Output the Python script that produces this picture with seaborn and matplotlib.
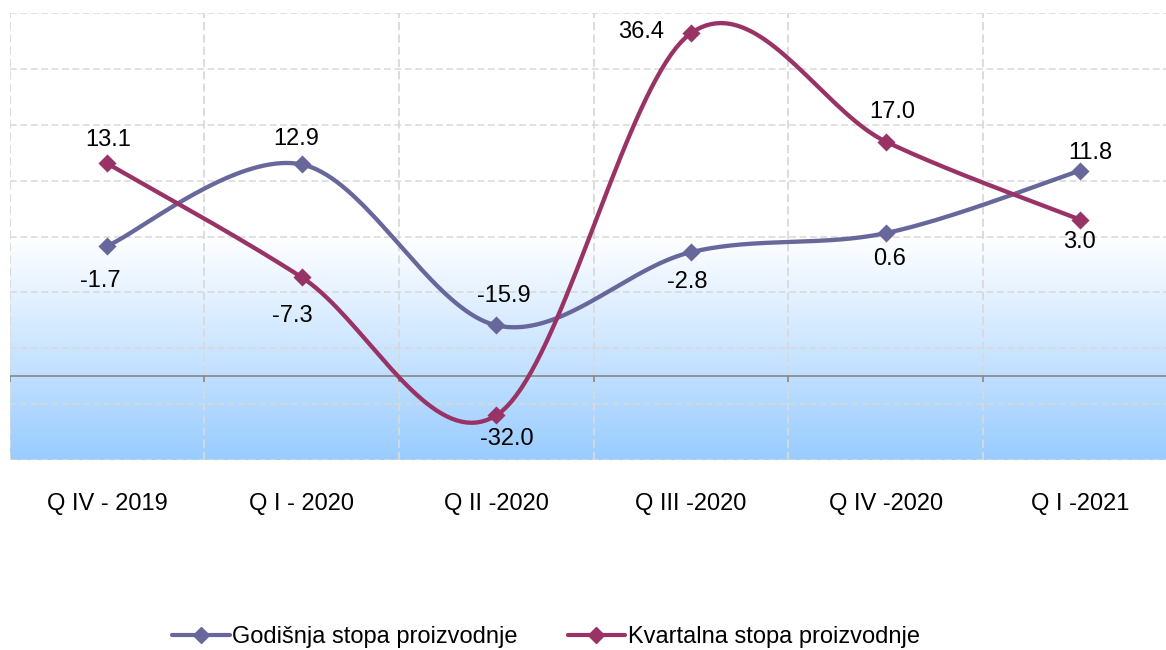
import numpy as np
import matplotlib
matplotlib.use("Agg")
import matplotlib.pyplot as plt
from matplotlib.colors import LinearSegmentedColormap
from matplotlib.lines import Line2D
import seaborn as sns

quarters = ["Q IV - 2019", "Q I - 2020", "Q II -2020", "Q III -2020", "Q IV -2020", "Q I -2021"]
godisnja = [-1.7, 12.9, -15.9, -2.8, 0.6, 11.8]
kvartalna = [13.1, -7.3, -32.0, 36.4, 17.0, 3.0]
series_names = ["Godišnja stopa proizvodnje", "Kvartalna stopa proizvodnje"]
colors = ["#67679C", "#993366"]

# where the data labels sit, pixels from the marker (dx, dy up)
god_offsets = [(-7, -35), (-6, 25), (7, 29), (-4, -30), (4, -26), (10, 18)]
kv_offsets = [(1, 23), (-9, -39), (10, -24), (-50, 1), (7, 30), (-1, -22)]


def smooth(vals, n=40):
    # excel-like smoothed line: bezier segments with catmull-rom tangents
    pts = np.column_stack([np.arange(len(vals), dtype=float), np.asarray(vals, dtype=float)])
    ext = np.vstack([pts[0], pts, pts[-1]])
    t = np.linspace(0, 1, n)[:, None]
    out = []
    for i in range(len(pts) - 1):
        p0, p1 = pts[i], pts[i + 1]
        c1 = p0 + (ext[i + 2] - ext[i]) / 6
        c2 = p1 - (ext[i + 3] - ext[i + 1]) / 6
        seg = (1 - t) ** 3 * p0 + 3 * (1 - t) ** 2 * t * c1 + 3 * (1 - t) * t ** 2 * c2 + t ** 3 * p1
        out.append(seg if i == 0 else seg[1:])
    out = np.vstack(out)
    return out[:, 0], out[:, 1]


sns.set_style("white")
plt.rcParams['font.family'] = ['Liberation Sans', 'DejaVu Sans']
plt.rcParams['text.color'] = 'black'
plt.rcParams['xtick.labelcolor'] = 'black'

fig = plt.figure(figsize=(11.66, 6.5), dpi=100)
ax = fig.add_axes([9.7 / 1166, 190 / 650, 1168 / 1166, 447 / 650])

# blue gradient below zero
bg = LinearSegmentedColormap.from_list("bg", ["#99CCFF", "#FFFFFF"])
ax.imshow(np.linspace(0, 1, 256)[:, None], cmap=bg, origin='lower', aspect='auto',
          extent=(-0.5, 5.5, -40, 0), zorder=0)

ax.set_xlim(-0.5, 5.5)
ax.set_ylim(-40, 40)
ax.set_axisbelow(True)

ax.set_yticks(np.arange(-40, 41, 10))
ax.set_xticks(np.arange(-0.5, 6, 1), minor=True)
ax.set_xticks(range(len(quarters)))
ax.set_xticklabels(quarters, fontsize=17, color='black')
ax.tick_params(axis='x', which='both', length=0, pad=24)
ax.tick_params(axis='y', left=False, labelleft=False)
ax.grid(axis='y', color='#D9D9D9', linewidth=1.1, linestyle=(0, (4.5, 2.3)))
ax.grid(axis='x', which='minor', color='#D9D9D9', linewidth=1.3, linestyle=(0, (4.5, 2.3)))
ax.grid(axis='x', which='major', visible=False)
for s in ax.spines.values():
    s.set_visible(False)

# category axis crossing at -25
ax.axhline(-25, color='#878787', linewidth=1.2, zorder=1)
ax.vlines(np.arange(-0.5, 6, 1), -26.1, -25, color='#878787', linewidth=1.2, zorder=1)

for vals, col, offs in [(godisnja, colors[0], god_offsets), (kvartalna, colors[1], kv_offsets)]:
    xs, ys = smooth(vals)
    sns.lineplot(x=xs, y=ys, color=col, linewidth=3.1, sort=False, estimator=None, ax=ax, zorder=2)
    sns.scatterplot(x=list(range(len(vals))), y=vals, marker='D', s=85, color=col,
                    linewidth=0, ax=ax, zorder=3)
    for i, v in enumerate(vals):
        ax.annotate(f"{v:.1f}", (i, v), xytext=offs[i], textcoords='offset pixels',
                    ha='center', va='center', fontsize=17, color='black', zorder=4)

handles = [Line2D([], [], color=c, linewidth=3, marker='D', markersize=8) for c in colors]
fig.legend(handles, series_names, loc='center', bbox_to_anchor=(546 / 1166, 13 / 650), ncol=2,
           frameon=False, fontsize=17, handlelength=2.45, handletextpad=0.1, columnspacing=2.1,
           labelcolor='black')

fig.savefig("out.png", dpi=100, facecolor='white')
